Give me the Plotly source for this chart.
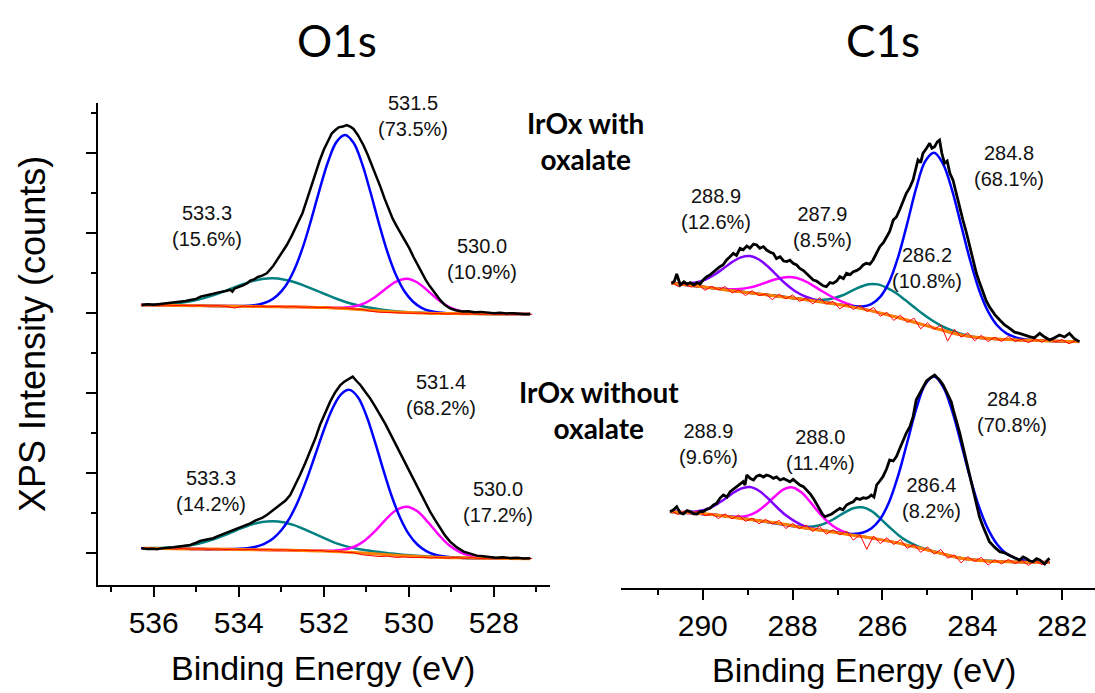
import plotly.graph_objects as go

# ---------------- O1s, top spectrum (IrOx with oxalate) ----------------
o1s_top_bg_x = [536.3, 535.5, 534.5, 533.5, 532.5, 532.0, 531.5, 531.0, 530.5, 530.0, 529.5, 529.0, 528.0, 527.15]
o1s_top_bg_y = [3.100, 3.095, 3.088, 3.082, 3.074, 3.068, 3.055, 3.038, 3.020, 3.006, 2.997, 2.993, 2.989, 2.987]

o1s_top_blue_x = [536.3, 535.3, 534.5, 533.9, 533.7, 533.5, 533.3, 533.1, 532.9, 532.7, 532.5, 532.3, 532.1, 531.9,
                  531.7, 531.5, 531.3, 531.1, 530.9, 530.7, 530.5, 530.3, 530.1, 529.9, 529.7, 529.5, 529.3, 529.1,
                  528.5, 527.8, 527.15]
o1s_top_blue_y = [3.100, 3.094, 3.088, 3.088, 3.093, 3.110, 3.145, 3.216, 3.337, 3.534, 3.810, 4.159, 4.540, 4.891,
                  5.139, 5.225, 5.128, 4.867, 4.506, 4.114, 3.756, 3.471, 3.268, 3.141, 3.065, 3.025, 3.006, 2.998,
                  2.991, 2.988, 2.987]

o1s_top_teal_x = [536.3, 535.7, 535.2, 534.95, 534.7, 534.45, 534.2, 533.95, 533.7, 533.45, 533.2, 532.95, 532.7,
                  532.45, 532.2, 531.95, 531.7, 531.45, 531.2, 530.95, 530.7, 530.2, 529.7, 528.5, 527.15]
o1s_top_teal_y = [3.104, 3.112, 3.141, 3.167, 3.205, 3.250, 3.300, 3.351, 3.395, 3.424, 3.433, 3.420, 3.388,
                  3.340, 3.286, 3.231, 3.178, 3.132, 3.097, 3.068, 3.047, 3.017, 3.002, 2.991, 2.987]

o1s_top_mag_x = [536.3, 534.0, 532.5, 531.8, 531.55, 531.3, 531.05, 530.8, 530.55, 530.3, 530.05, 529.8, 529.55,
                 529.3, 529.05, 528.8, 528.55, 528.3, 527.15]
o1s_top_mag_y = [3.100, 3.085, 3.074, 3.066, 3.066, 3.081, 3.120, 3.197, 3.299, 3.392, 3.427, 3.381, 3.276,
                 3.161, 3.073, 3.024, 3.001, 2.993, 2.987]

o1s_top_data_x = [536.28, 536.15, 536.0, 535.85, 535.7, 535.55, 535.4, 535.25, 535.14, 535.0, 534.9, 534.8, 534.7,
                  534.6, 534.5, 534.4, 534.3, 534.2, 534.15, 534.1, 534.0, 533.9, 533.8, 533.73, 533.64, 533.55,
                  533.45, 533.34, 533.2, 533.1, 532.98, 532.87, 532.75, 532.63, 532.5, 532.4, 532.3, 532.2, 532.1,
                  532.0, 531.9, 531.81, 531.72, 531.65, 531.55, 531.46, 531.38, 531.3, 531.2, 531.07, 530.97, 530.87,
                  530.77, 530.67, 530.57, 530.48, 530.38, 530.28, 530.18, 530.09, 529.99, 529.89, 529.79, 529.69,
                  529.6, 529.5, 529.38, 529.26, 529.15, 529.03, 528.9, 528.75, 528.6, 528.45, 528.3, 528.15, 528.0,
                  527.85, 527.7, 527.55, 527.4, 527.25, 527.14]
o1s_top_data_y = [3.100, 3.110, 3.104, 3.114, 3.118, 3.126, 3.138, 3.150, 3.163, 3.176, 3.205, 3.214, 3.232,
                  3.240, 3.255, 3.262, 3.275, 3.290, 3.266, 3.306, 3.322, 3.345, 3.372, 3.404, 3.420, 3.450,
                  3.468, 3.496, 3.580, 3.663, 3.750, 3.850, 3.970, 4.100, 4.250, 4.410, 4.580, 4.746, 4.900,
                  5.040, 5.160, 5.246, 5.290, 5.321, 5.330, 5.350, 5.330, 5.300, 5.225, 5.100, 4.980, 4.850,
                  4.720, 4.580, 4.430, 4.300, 4.180, 4.080, 3.990, 3.910, 3.810, 3.700, 3.600, 3.496,
                  3.410, 3.330, 3.240, 3.160, 3.100, 3.058, 3.035, 3.020, 3.022, 3.010, 3.014, 3.002, 2.996,
                  3.004, 2.995, 2.998, 2.990, 2.985, 2.988]

o1s_resid_x = [536.3, 536.1, 535.9, 535.7, 535.5, 535.3, 535.1, 534.9, 534.7, 534.5, 534.3, 534.1, 533.9, 533.7,
               533.5, 533.3, 533.1, 532.9, 532.7, 532.5, 532.3, 532.1, 531.9, 531.7, 531.5, 531.3, 531.1, 530.9,
               530.7, 530.5, 530.3, 530.1, 529.9, 529.7, 529.5, 529.3, 529.1, 528.9, 528.7, 528.5, 528.3, 528.1,
               527.9, 527.7, 527.5, 527.3, 527.1]
o1s_top_resid_y = [3.098, 3.104, 3.094, 3.101, 3.092, 3.097, 3.088, 3.095, 3.086, 3.092, 3.084, 3.062, 3.088, 3.080,
                   3.086, 3.077, 3.083, 3.074, 3.080, 3.070, 3.076, 3.066, 3.071, 3.060, 3.064, 3.050, 3.046, 3.022,
                   3.010, 3.004, 3.000, 2.998, 2.996, 3.000, 2.990, 2.996, 2.986, 2.992, 2.985, 2.990, 2.984, 2.989,
                   2.983, 2.988, 2.982, 2.986, 2.984]

# ---------------- O1s, bottom spectrum (IrOx without oxalate) ----------------
o1s_bot_bg_x = [536.25, 535.5, 534.75, 534.0, 533.25, 532.5, 532.0, 531.5, 531.0, 530.5, 530.0, 529.5, 529.0, 528.5, 528.0, 527.15]
o1s_bot_bg_y = [0.058, 0.054, 0.049, 0.044, 0.038, 0.032, 0.025, 0.012, -0.004, -0.022, -0.038, -0.050, -0.058, -0.063, -0.067, -0.071]

o1s_bot_blue_x = [536.3, 535.3, 534.5, 534.0, 533.8, 533.6, 533.4, 533.2, 533.0, 532.8, 532.6, 532.4, 532.2, 532.0,
                  531.8, 531.6, 531.4, 531.2, 531.0, 530.8, 530.6, 530.4, 530.2, 530.0, 529.8, 529.6, 529.4, 529.2,
                  528.8, 528.0, 527.15]
o1s_bot_blue_y = [0.058, 0.053, 0.048, 0.052, 0.060, 0.079, 0.115, 0.178, 0.284, 0.440, 0.654, 0.924, 1.228, 1.535,
                  1.800, 1.980, 2.039, 1.951, 1.719, 1.396, 1.038, 0.706, 0.435, 0.236, 0.106, 0.027, -0.018, -0.040,
                  -0.060, -0.067, -0.071]

o1s_bot_teal_x = [536.25, 535.95, 535.7, 535.45, 535.2, 534.95, 534.7, 534.45, 534.2, 533.95, 533.7, 533.45, 533.2,
                  532.95, 532.7, 532.45, 532.2, 531.95, 531.7, 531.45, 531.2, 530.95, 530.7, 530.45, 530.2, 529.8,
                  529.3, 528.8, 527.15]
o1s_bot_teal_y = [0.060, 0.062, 0.066, 0.076, 0.091, 0.116, 0.152, 0.199, 0.252, 0.307, 0.355, 0.388, 0.398,
                  0.384, 0.348, 0.295, 0.235, 0.176, 0.120, 0.080, 0.050, 0.030, 0.012, -0.005, -0.020, -0.035,
                  -0.050, -0.058, -0.071]

o1s_bot_mag_x = [536.25, 534.0, 532.05, 531.8, 531.55, 531.3, 531.05, 530.8, 530.55, 530.3, 530.05, 529.8, 529.55,
                 529.3, 529.05, 528.8, 528.55, 528.3, 528.05, 527.15]
o1s_bot_mag_y = [0.058, 0.044, 0.028, 0.029, 0.041, 0.075, 0.151, 0.271, 0.415, 0.534, 0.578, 0.521, 0.386,
                 0.229, 0.096, 0.010, -0.036, -0.056, -0.065, -0.071]

o1s_bot_data_x = [536.28, 536.15, 536.0, 535.93, 535.8, 535.65, 535.54, 535.4, 535.25, 535.14, 535.0, 534.91,
                  534.75, 534.6, 534.52, 534.4, 534.25, 534.12, 534.0, 533.86, 533.73, 533.6, 533.45, 533.34, 533.2,
                  533.03, 532.9, 532.79, 532.68, 532.56, 532.44, 532.32, 532.2, 532.09, 531.97, 531.85, 531.73,
                  531.61, 531.52, 531.46, 531.4, 531.32, 531.23, 531.14, 531.03, 530.91, 530.79, 530.67, 530.55,
                  530.44, 530.32, 530.2, 530.08, 529.97, 529.85, 529.73, 529.61, 529.5, 529.38, 529.26, 529.15,
                  529.03, 528.87, 528.71, 528.55, 528.4, 528.25, 528.08, 527.95, 527.8, 527.6, 527.45, 527.3, 527.14]
o1s_bot_data_y = [0.058, 0.050, 0.052, 0.046, 0.058, 0.062, 0.071, 0.082, 0.092, 0.100, 0.128, 0.150,
                  0.168, 0.185, 0.204, 0.228, 0.258, 0.288, 0.316, 0.338, 0.371, 0.408, 0.440, 0.475, 0.530,
                  0.600, 0.655, 0.725, 0.840, 0.975, 1.120, 1.267, 1.430, 1.600, 1.750, 1.892, 2.010,
                  2.100, 2.140, 2.162, 2.180, 2.204, 2.150, 2.100, 2.020, 1.933, 1.830, 1.725, 1.610,
                  1.496, 1.370, 1.246, 1.130, 1.017, 0.890, 0.767, 0.640, 0.517, 0.410, 0.308, 0.220,
                  0.142, 0.070, 0.017, -0.012, -0.033, -0.040, -0.054, -0.058, -0.052, -0.064, -0.058, -0.068, -0.067]

o1s_bot_resid_y = [0.056, 0.062, 0.052, 0.058, 0.050, 0.055, 0.047, 0.053, 0.045, 0.051, 0.043, 0.048, 0.040, 0.046,
                   0.038, 0.043, 0.035, 0.041, 0.033, 0.037, 0.028, 0.032, 0.020, 0.024, 0.008, 0.004, -0.022, -0.030,
                   -0.044, -0.040, -0.055, -0.050, -0.058, -0.052, -0.062, -0.056, -0.064, -0.058, -0.066, -0.060,
                   -0.068, -0.062, -0.070, -0.064, -0.071, -0.066, -0.070]

# ---------------- C1s, top spectrum ----------------
c1s_top_bg_x = [290.7, 290.2, 289.7, 289.2, 288.7, 288.2, 287.7, 287.2, 286.7, 286.2, 285.7, 285.2, 284.7, 284.2,
                283.7, 283.2, 282.7, 282.2, 281.62]
c1s_top_bg_y = [3.371, 3.34, 3.305, 3.268, 3.235, 3.20, 3.165, 3.125, 3.08, 3.02, 2.95, 2.87, 2.79, 2.72,
                2.685, 2.668, 2.658, 2.65, 2.642]

c1s_top_blue_x = [290.7, 289.7, 288.7, 287.7, 287.2, 286.65, 286.45, 286.25, 286.05, 285.85, 285.65, 285.45, 285.25,
                  285.05, 284.85, 284.65, 284.45, 284.25, 284.05, 283.85, 283.65, 283.45, 283.25, 283.05, 282.85,
                  282.2, 281.62]
c1s_top_blue_y = [3.371, 3.305, 3.235, 3.165, 3.125, 3.085, 3.082, 3.112, 3.202, 3.389, 3.702, 4.117, 4.560,
                  4.896, 5.004, 4.861, 4.533, 4.098, 3.659, 3.288, 3.020, 2.847, 2.749, 2.698, 2.673,
                  2.650, 2.642]

c1s_top_pur_x = [290.7, 290.55, 290.35, 290.15, 289.95, 289.75, 289.55, 289.35, 289.15, 288.95, 288.75, 288.55,
                 288.35, 288.15, 287.95, 287.75, 287.55, 287.35, 287.15]
c1s_top_pur_y = [3.375, 3.369, 3.370, 3.383, 3.416, 3.475, 3.553, 3.636, 3.696, 3.712, 3.669, 3.581,
                 3.469, 3.362, 3.275, 3.214, 3.173, 3.145, 3.124]

c1s_top_mag_x = [290.7, 289.8, 289.6, 289.4, 289.2, 289.0, 288.8, 288.6, 288.4, 288.2, 288.0, 287.8, 287.6, 287.4,
                 287.2, 287.0, 286.8, 286.6, 286.4, 286.2, 285.7, 285.2, 284.7, 284.2, 283.7, 283.2, 282.2, 281.62]
c1s_top_mag_y = [3.371, 3.314, 3.304, 3.297, 3.299, 3.314, 3.341, 3.380, 3.419, 3.445, 3.446, 3.417, 3.362, 3.293,
                 3.225, 3.166, 3.120, 3.082, 3.051, 3.022, 2.95, 2.87, 2.79, 2.72, 2.685, 2.668, 2.65, 2.642]

c1s_top_teal_x = [290.7, 289.7, 288.7, 287.9, 287.7, 287.5, 287.3, 287.1, 286.9, 286.7, 286.5, 286.3, 286.1, 285.9,
                  285.7, 285.5, 285.3, 285.1, 284.9, 284.7, 284.5, 284.3, 284.1, 283.9, 283.2, 282.2, 281.62]
c1s_top_teal_y = [3.371, 3.305, 3.235, 3.181, 3.170, 3.163, 3.165, 3.183, 3.219, 3.273, 3.325, 3.360, 3.358, 3.315,
                  3.250, 3.165, 3.075, 2.987, 2.909, 2.843, 2.792, 2.749, 2.717, 2.695, 2.668, 2.65, 2.642]

c1s_top_data_x = [290.69, 290.63, 290.58, 290.5, 290.42, 290.35, 290.28, 290.2, 290.13, 290.06, 289.98, 289.91, 289.83,
                  289.76, 289.69, 289.62, 289.55, 289.47, 289.4, 289.32, 289.25, 289.17, 289.1, 289.02, 288.95, 288.87,
                  288.8, 288.73, 288.65, 288.58, 288.5, 288.43, 288.36, 288.28, 288.2, 288.13, 288.06, 287.99, 287.91,
                  287.84, 287.76, 287.69, 287.62, 287.54, 287.47, 287.39, 287.32, 287.25, 287.17, 287.1, 287.02,
                  286.95, 286.87, 286.8, 286.72, 286.65, 286.58, 286.5, 286.43, 286.36, 286.28, 286.21, 286.13, 286.06,
                  285.98, 285.91, 285.84, 285.76, 285.69, 285.62, 285.54, 285.47, 285.4, 285.32, 285.26, 285.21,
                  285.15, 285.1, 285.02, 284.95, 284.9, 284.84, 284.78, 284.73, 284.68, 284.62, 284.56, 284.5, 284.43,
                  284.36, 284.28, 284.21, 284.13, 284.06, 283.98, 283.91, 283.84, 283.76, 283.69, 283.62, 283.5,
                  283.39, 283.28, 283.17, 283.06, 282.95, 282.84, 282.73, 282.62, 282.5, 282.39, 282.28, 282.17,
                  282.06, 281.95, 281.84, 281.73, 281.62]
c1s_top_data_y = [3.371, 3.400, 3.487, 3.350, 3.390, 3.360, 3.379, 3.350, 3.380, 3.362, 3.420, 3.454, 3.480,
                  3.517, 3.550, 3.579, 3.600, 3.6625, 3.700, 3.746, 3.720, 3.808, 3.790, 3.837, 3.810, 3.862,
                  3.850, 3.808, 3.830, 3.787, 3.760, 3.746, 3.680, 3.704, 3.650, 3.642, 3.660, 3.621, 3.600,
                  3.558, 3.530, 3.496, 3.450, 3.4125, 3.400, 3.371, 3.340, 3.329, 3.380, 3.371, 3.400,
                  3.454, 3.430, 3.496, 3.480, 3.517, 3.530, 3.558, 3.600, 3.621, 3.610, 3.6625, 3.760, 3.829,
                  3.880, 3.954, 4.020, 4.1625, 4.200, 4.2875, 4.400, 4.496, 4.560, 4.6625, 4.800, 4.9125,
                  4.880, 4.996, 5.060, 5.121, 5.060, 5.079, 5.140, 5.1625, 5.000, 4.871, 4.900, 4.746, 4.660,
                  4.496, 4.340, 4.1625, 4.000, 3.829, 3.660, 3.496, 3.380, 3.246, 3.150, 3.079, 2.980,
                  2.9125, 2.850, 2.808, 2.760, 2.746, 2.720, 2.704, 2.690, 2.746, 2.700, 2.6625, 2.690,
                  2.725, 2.700, 2.746, 2.680, 2.642]

c1s_top_resid_x = [290.7, 290.55, 290.4, 290.25, 290.1, 289.95, 289.8, 289.65, 289.5, 289.35, 289.2, 289.05, 288.9,
                   288.75, 288.6, 288.45, 288.3, 288.15, 288.0, 287.85, 287.7, 287.55, 287.4, 287.25, 287.1, 286.95,
                   286.8, 286.65, 286.5, 286.35, 286.2, 286.05, 285.9, 285.75, 285.6, 285.45, 285.3, 285.15, 285.0,
                   284.85, 284.7, 284.55, 284.4, 284.25, 284.1, 283.95, 283.8, 283.65, 283.5, 283.35, 283.2, 283.05,
                   282.9, 282.75, 282.6, 282.45, 282.3, 282.15, 282.0, 281.85, 281.7]
c1s_top_resid_y = [3.391, 3.332, 3.362, 3.323, 3.363, 3.282, 3.332, 3.291, 3.330, 3.249, 3.288, 3.218, 3.278,
                   3.218, 3.238, 3.167, 3.237, 3.176, 3.226, 3.145, 3.185, 3.113, 3.191, 3.109, 3.146, 3.052,
                   3.109, 3.044, 3.096, 3.018, 3.070, 2.959, 3.008, 2.907, 2.974, 2.880, 2.936, 2.802, 2.878,
                   2.794, 2.850, 2.649, 2.798, 2.697, 2.754, 2.653, 2.722, 2.643, 2.698, 2.643, 2.708, 2.645,
                   2.672, 2.629, 2.676, 2.634, 2.681, 2.639, 2.667, 2.615, 2.653]

# ---------------- C1s, bottom spectrum ----------------
c1s_bot_bg_x = [290.73, 290.2, 289.7, 289.2, 288.7, 288.2, 287.7, 287.2, 286.7, 286.2, 285.7, 285.2, 284.7, 284.2,
                283.7, 283.2, 282.7, 282.28]
c1s_bot_bg_y = [0.517, 0.50, 0.475, 0.435, 0.40, 0.36, 0.31, 0.27, 0.225, 0.183, 0.13, 0.065, -0.005, -0.07,
                -0.10, -0.11, -0.115, -0.117]

c1s_bot_blue_x = [290.73, 289.7, 288.7, 287.7, 287.05, 286.85, 286.65, 286.45, 286.25, 286.05, 285.85, 285.65,
                  285.45, 285.25, 285.05, 284.85, 284.65, 284.45, 284.25, 284.05, 283.85, 283.65, 283.45, 283.25,
                  283.05, 282.85, 282.28]
c1s_bot_blue_y = [0.517, 0.475, 0.40, 0.31, 0.262, 0.244, 0.239, 0.253, 0.306, 0.425, 0.641, 0.969,
                  1.381, 1.798, 2.107, 2.206, 2.077, 1.776, 1.367, 0.944, 0.576, 0.298, 0.110, -0.004,
                  -0.064, -0.094, -0.117]

c1s_bot_teal_x = [290.73, 289.7, 288.7, 288.05, 287.85, 287.65, 287.45, 287.25, 287.05, 286.85, 286.65, 286.45,
                  286.25, 286.05, 285.85, 285.65, 285.45, 285.25, 285.05, 284.85, 284.2, 283.2, 282.28]
c1s_bot_teal_y = [0.517, 0.475, 0.40, 0.347, 0.332, 0.327, 0.340, 0.376, 0.435, 0.504, 0.560, 0.571,
                  0.526, 0.433, 0.325, 0.226, 0.148, 0.093, 0.051, 0.018, -0.07, -0.11, -0.117]

c1s_bot_pur_x = [290.73, 290.55, 290.35, 290.15, 289.95, 289.75, 289.55, 289.35, 289.15, 288.95, 288.75, 288.55,
                 288.35, 288.15, 287.95, 287.75, 287.55, 287.35]
c1s_bot_pur_y = [0.517, 0.515, 0.513, 0.520, 0.540, 0.589, 0.659, 0.741, 0.805, 0.824, 0.778, 0.684,
                 0.572, 0.471, 0.395, 0.338, 0.306, 0.285]

c1s_bot_mag_x = [290.73, 289.6, 289.4, 289.2, 289.0, 288.8, 288.6, 288.4, 288.2, 288.0, 287.8, 287.6, 287.4, 287.2,
                 287.0, 286.8, 286.6, 286.4, 285.7, 285.2, 284.7, 284.2, 283.7, 283.2, 282.28]
c1s_bot_mag_y = [0.517, 0.471, 0.457, 0.453, 0.467, 0.515, 0.600, 0.706, 0.795, 0.819, 0.755, 0.632, 0.496, 0.381,
                 0.301, 0.252, 0.222, 0.200, 0.13, 0.065, -0.005, -0.07, -0.10, -0.11, -0.117]

c1s_bot_data_x = [290.73, 290.65, 290.58, 290.5, 290.43, 290.35, 290.28, 290.2, 290.13, 290.06, 289.99, 289.91,
                  289.84, 289.76, 289.69, 289.61, 289.54, 289.46, 289.39, 289.32, 289.25, 289.17, 289.1, 289.06,
                  289.02, 288.94, 288.87, 288.8, 288.73, 288.65, 288.58, 288.5, 288.43, 288.36, 288.28, 288.2,
                  288.13, 288.06, 287.99, 287.91, 287.84, 287.76, 287.69, 287.61, 287.54, 287.46, 287.39, 287.33,
                  287.28, 287.2, 287.13, 287.05, 286.95, 286.88, 286.8, 286.73, 286.65, 286.58, 286.5, 286.43,
                  286.36, 286.3, 286.25, 286.19, 286.13, 286.06, 285.99, 285.91, 285.84, 285.76, 285.69, 285.62,
                  285.54, 285.47, 285.39, 285.32, 285.25, 285.17, 285.1, 285.02, 284.95, 284.9, 284.84, 284.78,
                  284.73, 284.65, 284.58, 284.52, 284.47, 284.42, 284.36, 284.28, 284.21, 284.13, 284.06, 283.98,
                  283.91, 283.84, 283.76, 283.69, 283.62, 283.5, 283.39, 283.28, 283.17, 283.06, 282.95, 282.87,
                  282.8, 282.72, 282.65, 282.57, 282.5, 282.44, 282.39, 282.33, 282.28]
c1s_bot_data_y = [0.517, 0.540, 0.579, 0.500, 0.4875, 0.530, 0.517, 0.490, 0.4875, 0.520, 0.517, 0.545,
                  0.558, 0.600, 0.621, 0.690, 0.725, 0.700, 0.767, 0.800, 0.829, 0.860, 0.892, 0.850,
                  0.975, 0.930, 0.9125, 0.960, 0.975, 0.950, 0.975, 0.960, 0.933, 0.950, 0.9125, 0.930,
                  0.9125, 0.890, 0.920, 0.880, 0.850, 0.830, 0.7875, 0.740, 0.683, 0.600, 0.5375, 0.480,
                  0.454, 0.470, 0.4875, 0.520, 0.558, 0.540, 0.600, 0.621, 0.640, 0.683, 0.670, 0.690,
                  0.683, 0.700, 0.725, 0.700, 0.850, 0.900, 0.954, 1.050, 1.1625, 1.150, 1.204, 1.300,
                  1.4125, 1.500, 1.579, 1.700, 1.9125, 2.000, 2.079, 2.150, 2.183, 2.200, 2.225, 2.190,
                  2.1625, 2.100, 2.017, 1.960, 1.892, 1.780, 1.6625, 1.500, 1.329, 1.140, 0.954, 0.760,
                  0.579, 0.450, 0.329, 0.230, 0.1417, 0.070, 0.0167, 0.000, -0.025, -0.060, -0.0875, -0.050,
                  -0.067, -0.100, -0.108, -0.070, -0.0875, -0.120, -0.1375, -0.090, -0.067]

c1s_bot_resid_x = [290.7, 290.55, 290.4, 290.25, 290.1, 289.95, 289.8, 289.65, 289.5, 289.35, 289.2, 289.05, 288.9,
                   288.75, 288.6, 288.45, 288.3, 288.15, 288.0, 287.85, 287.7, 287.55, 287.4, 287.25, 287.1, 286.95,
                   286.8, 286.65, 286.5, 286.35, 286.2, 286.05, 285.9, 285.75, 285.6, 285.45, 285.3, 285.15, 285.0,
                   284.85, 284.7, 284.55, 284.4, 284.25, 284.1, 283.95, 283.8, 283.65, 283.5, 283.35, 283.2, 283.05,
                   282.9, 282.75, 282.6, 282.45, 282.3]
c1s_bot_resid_y = [0.526, 0.481, 0.526, 0.492, 0.525, 0.467, 0.490, 0.431, 0.489, 0.427, 0.475, 0.395, 0.434,
                   0.364, 0.422, 0.360, 0.408, 0.305, 0.370, 0.305, 0.350, 0.268, 0.336, 0.234, 0.291, 0.228,
                   0.274, 0.161, 0.228, 0.046, 0.213, 0.117, 0.191, 0.105, 0.167, 0.058, 0.108, 0.008, 0.077,
                   -0.014, 0.045, -0.065, -0.024, -0.124, -0.046, -0.105, -0.054, -0.151, -0.084, -0.137, -0.080,
                   -0.132, -0.093, -0.155, -0.096, -0.146, -0.107]

# ---------------- text ----------------
panel_titles = ["O1s", "C1s"]
axis_title_x = "Binding Energy (eV)"
axis_title_y = "XPS Intensity (counts)"
sample_labels = ["IrOx with<br>oxalate", "IrOx without<br>oxalate"]
o1s_peak_labels = ["531.5<br>(73.5%)", "533.3<br>(15.6%)", "530.0<br>(10.9%)",
                   "531.4<br>(68.2%)", "533.3<br>(14.2%)", "530.0<br>(17.2%)"]
c1s_peak_labels = ["288.9<br>(12.6%)", "287.9<br>(8.5%)", "286.2<br>(10.8%)", "284.8<br>(68.1%)",
                   "288.9<br>(9.6%)", "288.0<br>(11.4%)", "286.4<br>(8.2%)", "284.8<br>(70.8%)"]

# ---------------- styles ----------------
BLACK, BLUE, TEAL, MAG, PUR, ORANGE, RED = "#000000", "#0000FF", "#008080", "#FF00FF", "#7F00FF", "#FF8000", "#FF0000"
W, H = 1095, 693

fig = go.Figure()


def add(x, y, color, width, xa, ya, shape="spline"):
    fig.add_trace(go.Scatter(x=x, y=y, mode="lines", xaxis=xa, yaxis=ya, showlegend=False,
                             hoverinfo="skip", line=dict(color=color, width=width, shape=shape)))


# O1s panel
for bgx, bgy, comps, rx, ry, dx, dy in [
    (o1s_top_bg_x, o1s_top_bg_y,
     [(o1s_top_teal_x, o1s_top_teal_y, TEAL), (o1s_top_mag_x, o1s_top_mag_y, MAG), (o1s_top_blue_x, o1s_top_blue_y, BLUE)],
     o1s_resid_x, o1s_top_resid_y, o1s_top_data_x, o1s_top_data_y),
    (o1s_bot_bg_x, o1s_bot_bg_y,
     [(o1s_bot_teal_x, o1s_bot_teal_y, TEAL), (o1s_bot_mag_x, o1s_bot_mag_y, MAG), (o1s_bot_blue_x, o1s_bot_blue_y, BLUE)],
     o1s_resid_x, o1s_bot_resid_y, o1s_bot_data_x, o1s_bot_data_y),
]:
    for cx, cy, col in comps:
        add(cx, cy, col, 2.5, "x", "y")
    add(bgx, bgy, ORANGE, 3, "x", "y")
    add(rx, ry, RED, 1, "x", "y", "linear")
    add(dx, dy, BLACK, 2.5, "x", "y", "linear")

# C1s panel
for bgx, bgy, comps, rx, ry, dx, dy in [
    (c1s_top_bg_x, c1s_top_bg_y,
     [(c1s_top_teal_x, c1s_top_teal_y, TEAL), (c1s_top_mag_x, c1s_top_mag_y, MAG),
      (c1s_top_pur_x, c1s_top_pur_y, PUR), (c1s_top_blue_x, c1s_top_blue_y, BLUE)],
     c1s_top_resid_x, c1s_top_resid_y, c1s_top_data_x, c1s_top_data_y),
    (c1s_bot_bg_x, c1s_bot_bg_y,
     [(c1s_bot_teal_x, c1s_bot_teal_y, TEAL), (c1s_bot_mag_x, c1s_bot_mag_y, MAG),
      (c1s_bot_pur_x, c1s_bot_pur_y, PUR), (c1s_bot_blue_x, c1s_bot_blue_y, BLUE)],
     c1s_bot_resid_x, c1s_bot_resid_y, c1s_bot_data_x, c1s_bot_data_y),
]:
    for cx, cy, col in comps:
        add(cx, cy, col, 2.5, "x2", "y2")
    add(bgx, bgy, ORANGE, 3, "x2", "y2")
    add(rx, ry, RED, 1, "x2", "y2", "linear")
    add(dx, dy, BLACK, 2.8, "x2", "y2", "linear")

TICKFONT = dict(family="Liberation Sans, Arial, sans-serif", size=30, color="black")
common_x = dict(tick0=0, dtick=2, ticks="outside", ticklen=10, tickwidth=2, tickcolor="black",
                showline=True, linecolor="black", linewidth=2, showgrid=False, zeroline=False,
                tickfont=TICKFONT,
                minor=dict(dtick=1, ticks="outside", ticklen=5, tickwidth=2, tickcolor="black", showgrid=False))

fig.update_layout(
    width=W, height=H, margin=dict(l=0, r=0, t=0, b=0),
    paper_bgcolor="white", plot_bgcolor="white", showlegend=False,
    xaxis=dict(domain=[98 / W, 550 / W], range=[537.31, 526.68], anchor="y", **common_x),
    yaxis=dict(domain=[(H - 585) / H, (H - 103) / H], range=[-0.4, 5.625], anchor="x",
               tick0=0, dtick=1, ticks="outside", ticklen=10, tickwidth=2, tickcolor="black",
               showline=True, linecolor="black", linewidth=2, showgrid=False, zeroline=False,
               showticklabels=False,
               minor=dict(dtick=0.5, ticks="outside", ticklen=5, tickwidth=2, tickcolor="black", showgrid=False)),
    xaxis2=dict(domain=[621 / W, 1.0], range=[291.82, 281.27], anchor="y2", **common_x),
    yaxis2=dict(domain=[(H - 588) / H, (H - 103) / H], range=[-0.4375, 5.625], anchor="x2", visible=False),
)

ann = []


def text(t, px, py, size, family, angle=0, color="black"):
    ann.append(dict(text=t, x=px / W, y=1 - py / H, xref="paper", yref="paper", showarrow=False,
                    xanchor="center", yanchor="middle", textangle=angle,
                    font=dict(family=family, size=size, color=color)))


SANS = "Liberation Sans, Arial, sans-serif"
CAL = "Lato, Open Sans, sans-serif"
text(panel_titles[0], 337, 40, 44, CAL)
text(panel_titles[1], 883, 40, 44, CAL)
text(axis_title_x, 323, 668, 34, SANS)
text(axis_title_x, 864, 670, 34, SANS)
text(axis_title_y, 32, 334, 36, SANS, angle=-90)
text("<b>" + sample_labels[0].replace("<br>", "</b><br><b>") + "</b>", 585, 141, 28, CAL)
text("<b>" + sample_labels[1].replace("<br>", "</b><br><b>") + "</b>", 599, 410, 28, CAL)

o1s_label_pos = [(413, 116), (207, 226), (482, 259), (441, 395), (211, 491), (498, 502)]
c1s_label_pos = [(716, 209), (822, 227), (927, 268), (1009, 166), (708, 444), (820, 450), (931, 498), (1012, 412)]
for t, (px, py) in zip(o1s_peak_labels, o1s_label_pos):
    text(t, px, py, 20, SANS, color="#111111")
for t, (px, py) in zip(c1s_peak_labels, c1s_label_pos):
    text(t, px, py, 20, SANS, color="#111111")

fig.update_layout(annotations=ann)
fig.write_html("out.html")
